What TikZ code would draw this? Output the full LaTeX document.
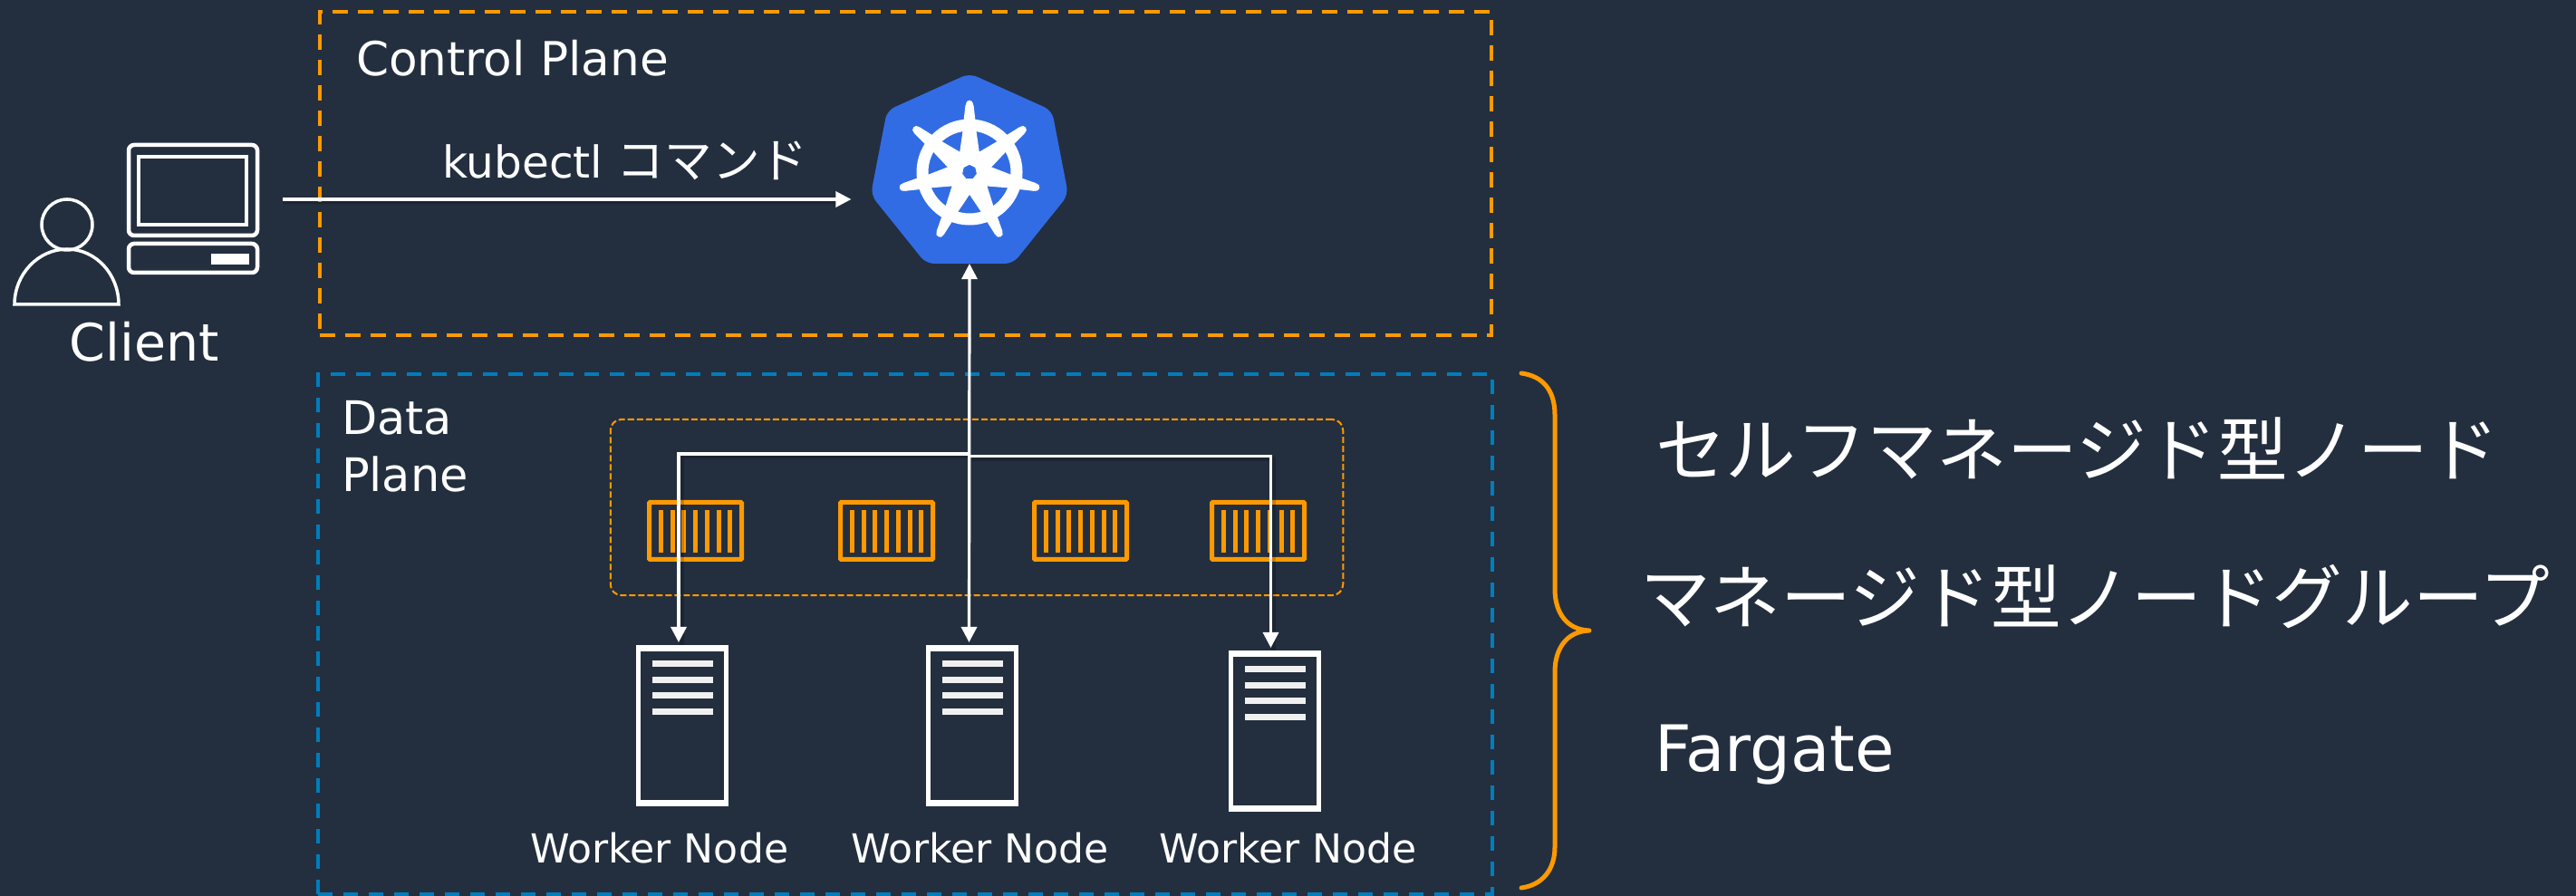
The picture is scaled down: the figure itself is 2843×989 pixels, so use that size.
\documentclass[tikz,border=0pt]{standalone}
\usepackage{fontspec}
\setmainfont{DejaVu Sans}
\newfontfamily\jp{Noto Sans CJK JP}
\usetikzlibrary{arrows.meta,calc}
\definecolor{bgink}{HTML}{232F3E}
\definecolor{awsorange}{HTML}{FF9900}
\definecolor{awsblue}{HTML}{007DBC}
\definecolor{kubeblue}{HTML}{326CE5}
\newcommand\fsz[1]{\fontsize{#1}{#1}\selectfont}
\tikzset{
  x=0.01cm,y=-0.01cm,
  label text/.style={text=white,inner sep=0pt,outer sep=0pt,anchor=base west},
  plane orange/.style={draw=awsorange,line width=0.04cm,dash pattern=on 0.17cm off 0.11cm},
  plane blue/.style={draw=awsblue,line width=0.04cm,dash pattern=on 0.16cm off 0.12cm},
  conn/.style={draw=white,line width=0.032cm,-{Triangle[length=0.17cm,width=0.17cm]}},
  connboth/.style={draw=white,line width=0.032cm,{Triangle[length=0.17cm,width=0.17cm]}-{Triangle[length=0.17cm,width=0.17cm]}},
  connshadow/.style={draw=black,opacity=0.18,line width=0.05cm},
  line icon/.style={draw=white,line width=0.045cm},
  container/.pic={
    \draw[awsorange,line width=0.05cm,rounded corners=0.01cm] (2.5,2.5) rectangle (104.5,65.5);
    \foreach \k in {0,...,6}{
      \fill[awsorange] ({13+12.7*\k},11) rectangle ++(5,47);
    }
  },
  server/.pic={
    \draw[white,line width=0.05cm] (2.5,3) rectangle (99.5,175);
    \fill[white] (0,0) rectangle (102,7);
    \fill[white] (0,171) rectangle (102,178);
    \foreach \k in {0,1,2,3}{
      \fill[white!93!bgink] (18,{17+17.7*\k}) rectangle ++(66.5,7);
    }
  },
}
\begin{document}
\begin{tikzpicture}
\useasboundingbox (0,0) rectangle (2843,989);
\fill[bgink] (0,0) rectangle (2843,989);

% planes
\node[plane orange,draw,inner sep=0pt,outer sep=0pt,minimum width=12.93cm,minimum height=3.57cm] (control) at (999.5,191.5) {};
\node[plane blue,draw,inner sep=0pt,outer sep=0pt,minimum width=12.96cm,minimum height=5.74cm] (data) at (999,700) {};
\node[label text,font=\fsz{14.7}] (controllabel) at (393,84) {Control Plane};
\node[text=white,inner sep=0pt,outer sep=0pt,anchor=north west,align=left,font=\fontsize{14.5}{17.9}\selectfont] (datalabel) at (377,442) {Data\\Plane};

% client
\draw[line icon,line width=0.035cm] (74,248) ellipse [x radius=28,y radius=28];
\draw[line icon,line width=0.035cm] (16,336) .. controls (16,303) and (42,275) .. (74,275) .. controls (106,275) and (131,303) .. (131,336) -- cycle;
\node[inner sep=0pt,outer sep=0pt,minimum width=1.45cm,minimum height=1.22cm] (pc) at (212.5,220) {};
\draw[line icon,rounded corners=0.06cm] (142,160) rectangle (284,260);
\draw[line icon] (153,173) rectangle (272,248);
\draw[line icon,rounded corners=0.06cm] (142,269) rectangle (284,301);
\fill[white] (233,280) rectangle (275,292);
\node[label text,font=\fsz{16.2}] (clientlabel) at (77,399) {Client};

% kubernetes
\node[inner sep=0pt,outer sep=0pt,minimum width=2.15cm,minimum height=2.09cm] (k8s) at (1070,186.5) {};
\fill[kubeblue,rounded corners=0.09cm] (1070,81) -- (1161,122) -- (1179,215) -- (1118,291) -- (1022,291) -- (961,215) -- (979,122) -- cycle;
\begin{scope}[shift={(1070,190)},y=0.01cm]
  \draw[white,line width=0.13cm] (0,0) circle [radius=52];
  \fill[white] (0,0) circle [radius=23];
  \foreach \a in {0,51.43,102.86,154.29,205.71,257.14,308.57}{
    \fill[white,rotate=\a] (-12,14) -- (12,14) -- (6.5,52) -- (-6.5,52) -- cycle;
    \fill[white,rotate=\a] (-7,52) -- (7,52) -- (4.5,74) -- (-4.5,74) -- cycle;
    \draw[white,line width=0.085cm,line cap=round,rotate=\a] (0,66) -- (0,75);
  }
  \fill[kubeblue] (90:8) -- (38.6:8) -- (-12.9:8) -- (-64.3:8) -- (-115.7:8) -- (-167.1:8) -- (141.4:8) -- cycle;
\end{scope}

% container group
\node[draw=awsorange,line width=0.02cm,dash pattern=on 0.07cm off 0.03cm,rounded corners=0.12cm,inner sep=0pt,outer sep=0pt,minimum width=8.08cm,minimum height=1.94cm] (group) at (1078,560) {};
\pic at (714,552) {container};
\pic at (925,552) {container};
\pic at (1139,552) {container};
\pic at (1335,552) {container};

% workers
\pic at (702,712) {server};
\pic at (1022,712) {server};
\pic at (1356,718) {server};
\node[label text,font=\fsz{12.55}] (w1label) at (585.5,952) {Worker Node};
\node[label text,font=\fsz{12.55}] (w2label) at (939,952) {Worker Node};
\node[label text,font=\fsz{12.55}] (w3label) at (1279,952) {Worker Node};

% connectors
\coordinate (w1port) at (749,709);
\coordinate (w2port) at (1069.5,709);
\coordinate (w3port) at (1402.5,715);
\coordinate (fork1) at (1069.5,501);
\coordinate (fork2) at (1069.5,503.5);
\draw[connshadow] ([yshift=-0.03cm]pc.east) ++(27,0) -- ($(pc.east -| k8s.west)+(-38,3)$);
\draw[connshadow] ([shift={(0.03cm,-0.03cm)}]fork1) -| ([shift={(0.03cm,-0.03cm)}]w1port);
\draw[connshadow] ([shift={(0.03cm,-0.03cm)}]fork2) -| ([shift={(0.03cm,-0.03cm)}]w3port);
\draw[conn,shorten <=0.27cm,shorten >=0.23cm] (pc.east) -- (pc.east -| k8s.west);
\draw[connboth] (k8s.south) -- (w2port);
\draw[conn] (fork1) -| (w1port);
\draw[conn] (fork2) -| (w3port);

\node[label text,font=\fsz{13.8}] (kubectl) at (488,197) {kubectl {\jp\fontsize{15}{15}\selectfont コマンド}};

% brace
\coordinate (bracetip) at (1754,696);
\draw[awsorange,line width=0.05cm,line cap=round,line join=round]
  (1679,412) .. controls (1702,415) and (1716,430) .. (1716,458)
  -- (1716,650) .. controls (1716,675) and (1728,695) .. (bracetip)
  .. controls (1728,697) and (1716,717) .. (1716,742)
  -- (1716,935) .. controls (1716,960) and (1702,977) .. (1679,980);

% right labels
\node[label text,font=\jp\fsz{22.1}] (self) at (1827,526) {セルフマネージド型ノード};
\node[label text,font=\jp\fsz{22.1}] (managed) at (1810,689) {マネージド型ノードグループ};
\node[label text,font=\fsz{20.1}] (fargate) at (1826,851) {Fargate};
\end{tikzpicture}
\end{document}
